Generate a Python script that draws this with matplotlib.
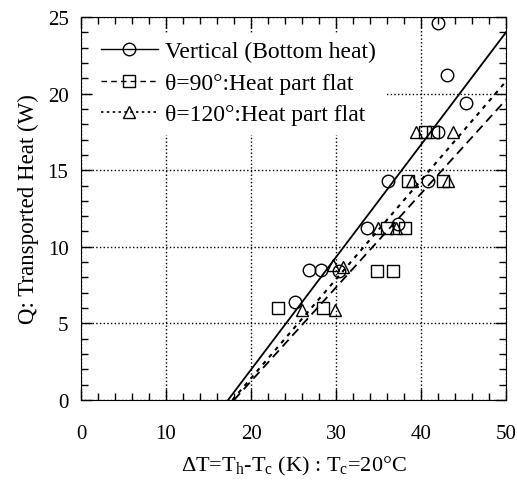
import matplotlib
matplotlib.use("Agg")
import matplotlib.pyplot as plt
from matplotlib.ticker import MultipleLocator

plt.rcParams['font.family'] = ['Liberation Serif', 'DejaVu Serif']
plt.rcParams['mathtext.fontset'] = 'custom'
plt.rcParams['mathtext.rm'] = 'Liberation Serif'

# Vertical (bottom heat)
vert_dT = [25.2, 26.8, 28.2, 30.4, 33.6, 37.3, 36.1, 40.8, 42.0, 45.3, 43.1, 42.0]
vert_Q = [6.4, 8.5, 8.5, 8.4, 11.2, 11.5, 14.3, 14.3, 17.5, 19.4, 21.2, 24.6]
vert_fit_dT = [17.3, 50.0]
vert_fit_Q = [0.0, 24.0]

# theta = 90 deg
t90_dT = [23.2, 28.5, 34.8, 36.7, 36.0, 38.1, 38.5, 42.6, 40.5, 41.4]
t90_Q = [6.0, 6.0, 8.4, 8.4, 11.2, 11.2, 14.3, 14.3, 17.5, 17.5]
t90_fit_dT = [18.0, 50.0]
t90_fit_Q = [0.0, 19.6]

# theta = 120 deg
t120_dT = [26.0, 29.9, 29.6, 30.8, 35.0, 37.1, 38.9, 43.2, 39.4, 43.8]
t120_Q = [5.9, 5.9, 8.8, 8.7, 11.2, 11.2, 14.3, 14.3, 17.5, 17.5]
t120_fit_dT = [17.8, 50.0]
t120_fit_Q = [0.0, 20.8]

fig = plt.figure(figsize=(5.17, 4.81), dpi=100)
ax = fig.add_axes([0.1567, 0.1663, 0.822, 0.7963])

mk = dict(markersize=9, markerfacecolor='none', markeredgecolor='black', markeredgewidth=1.0)

ax.plot(vert_fit_dT, vert_fit_Q, '-', color='black', lw=1.3)
ax.plot(t90_fit_dT, t90_fit_Q, '--', color='black', lw=1.3, dashes=(5, 3))
ax.plot(t120_fit_dT, t120_fit_Q, ':', color='black', lw=1.5, dashes=(2, 2.5))

ax.plot(vert_dT, vert_Q, 'o', linestyle='none', **mk)
ax.plot(t90_dT, t90_Q, 's', linestyle='none', **mk)
ax.plot(t120_dT, t120_Q, '^', linestyle='none', **mk)

# legend proxies
h1, = ax.plot([], [], '-o', color='black', lw=1.0, **mk)
h2, = ax.plot([], [], '--s', color='black', lw=1.0, dashes=(4, 3), **mk)
h3, = ax.plot([], [], ':^', color='black', lw=1.2, dashes=(1.5, 2), **mk)
leg = ax.legend([h1, h2, h3],
                ['Vertical (Bottom heat)', 'θ=90°:Heat part flat', 'θ=120°:Heat part flat'],
                loc='upper left', bbox_to_anchor=(0.0, 0.99), fontsize=17,
                frameon=True, fancybox=False, framealpha=1.0, edgecolor='white',
                facecolor='white', handlelength=2.4, handletextpad=0.3,
                labelspacing=0.42, borderpad=0.35)
leg.set_zorder(5)

ax.set_xlim(0, 50)
ax.set_ylim(0, 25)
ax.xaxis.set_major_locator(MultipleLocator(10))
ax.xaxis.set_minor_locator(MultipleLocator(2))
ax.yaxis.set_major_locator(MultipleLocator(5))
ax.yaxis.set_minor_locator(MultipleLocator(1))
ax.tick_params(which='both', direction='in', top=True, right=True, labelsize=15, width=1)
ax.tick_params(which='major', length=8)
ax.tick_params(axis='y', which='major', pad=9)
ax.tick_params(axis='x', which='major', pad=17)
ax.tick_params(which='minor', length=5)
ax.grid(True, which='major', linestyle=':', color='black', lw=1.0)
ax.set_axisbelow(True)

ax.set_xlabel(r'ΔT=T$_\mathregular{h}$-T$_\mathregular{c}$ (K) : T$_\mathregular{c}$=20°C', fontsize=16, labelpad=8)
ax.set_ylabel('Q: Transported Heat (W)', fontsize=16.5, labelpad=6)

fig.savefig('out.png', dpi=100)
